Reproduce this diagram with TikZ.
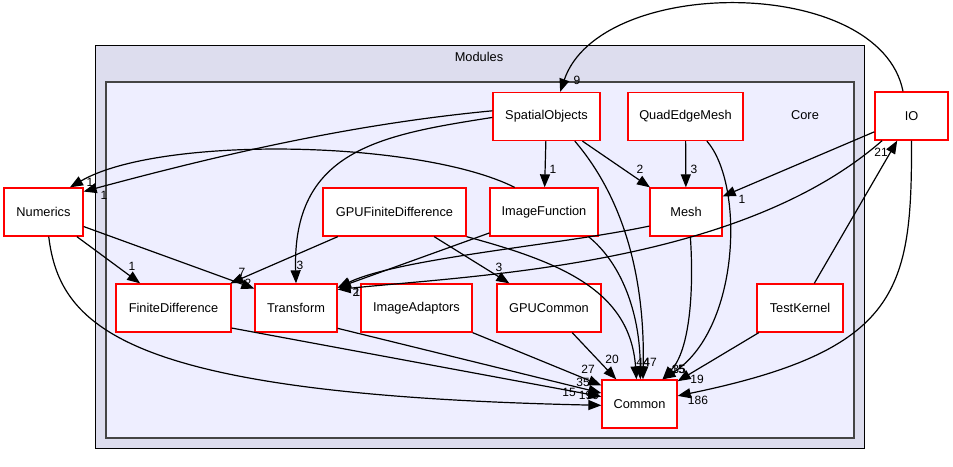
\documentclass[tikz,border=0pt]{standalone}
\usepackage{fontspec}
\setmainfont{Liberation Sans}
\usepackage{tikz}
\usetikzlibrary{
    positioning,
    arrows.meta,
}
\definecolor{modulesfill}{HTML}{DDDDEE}
\definecolor{corefill}{HTML}{EEEEFF}
\definecolor{coreline}{HTML}{444444}
\tikzset{
    % Directory node styles
    dirnode/.style={rectangle, draw=red, fill=white, line width=1.3pt,
                    minimum height=48pt, inner sep=0pt,
                    font=\fontsize{12.8}{15}\selectfont},
    % Cluster styles
    modulesbox/.style={draw=black, line width=1pt, fill=modulesfill},
    corebox/.style={draw=coreline, line width=1.8pt, fill=corefill},
    clusterlabel/.style={font=\fontsize{12.8}{15}\selectfont},
    % Arrow styles
    dep/.style={-{Triangle[length=13pt, width=10pt]}, line width=1.2pt},
    % Annotation styles
    deplabel/.style={font=\fontsize{12}{14}\selectfont, inner sep=0pt},
}

\begin{document}
\begin{tikzpicture}[x=1pt, y=-1pt]
    \useasboundingbox (0,0) rectangle (953,466);

    % Clusters
    \draw[modulesbox] (95,45) rectangle (864,448);
    \node[clusterlabel] (moduleslabel) at (479,57) {Modules};
    \draw[corebox] (106,82) rectangle (854,438);
    \node[clusterlabel] (corelabel) at (805,115) {Core};

    % Directories
    \node[dirnode, minimum width=107pt] (spatial) at (546.5,116.5) {SpatialObjects};
    \node[dirnode, minimum width=115pt] (quadedge) at (685.5,116.5) {QuadEdgeMesh};
    \node[dirnode, minimum width=73pt] (io) at (911.5,116) {IO};
    \node[dirnode, minimum width=79pt] (numerics) at (43.5,212) {Numerics};
    \node[dirnode, minimum width=143pt] (gpufd) at (394.5,212) {GPUFiniteDifference};
    \node[dirnode, minimum width=108pt] (imagefunction) at (544,212) {ImageFunction};
    \node[dirnode, minimum width=72pt] (mesh) at (686,212) {Mesh};
    \node[dirnode, minimum width=115pt] (finitediff) at (173.5,308) {FiniteDifference};
    \node[dirnode, minimum width=82pt] (transform) at (296,308) {Transform};
    \node[dirnode, minimum width=111pt] (imageadaptors) at (416.5,308) {ImageAdaptors};
    \node[dirnode, minimum width=104pt] (gpucommon) at (549,308) {GPUCommon};
    \node[dirnode, minimum width=86pt] (testkernel) at (800,308) {TestKernel};
    \node[dirnode, minimum width=75pt] (common) at (639.5,404) {Common};

    % SpatialObjects
    \draw[dep] (spatial.174) .. controls (353,124) and (223,154) .. (numerics.27);
    \draw[dep] (spatial.181) .. controls (380,135) and (292,150) .. (transform.north);
    \draw[dep] (spatial) -- (imagefunction);
    \draw[dep] (spatial) -- (mesh);
    \draw[dep] (spatial.-41) .. controls (625,200) and (645,280) .. (common.82);

    % QuadEdgeMesh
    \draw[dep] (quadedge) -- (mesh);
    \draw[dep] (quadedge.-49) .. controls (745,185) and (740,330) .. (common.47);

    % IO
    \draw[dep] (io.109) .. controls (880,-25) and (600,-25) .. (spatial.61);
    \draw[dep] (io) -- (mesh);
    \draw[dep] (io.-140) .. controls (740,265) and (480,275) .. (transform.24);
    \draw[dep] (io.south) .. controls (912,290) and (900,350) .. (common.12);

    % TestKernel
    \draw[dep] (testkernel) -- (io);
    \draw[dep] (testkernel) -- (common);

    % ImageFunction and Mesh
    \draw[dep] (imagefunction.140) .. controls (420,140) and (160,135) .. (numerics.43);
    \draw[dep] (imagefunction.201) -- (transform.26);
    \draw[dep] (imagefunction.-29) .. controls (620,262) and (640,310) .. (common.88);
    \draw[dep] (mesh.201) .. controls (560,245) and (400,258) .. (transform.26);
    \draw[dep] (mesh.-80) .. controls (694,290) and (690,350) .. (common.47);

    % GPUFiniteDifference
    \draw[dep] (gpufd) -- (finitediff);
    \draw[dep] (gpufd) -- (gpucommon);
    \draw[dep] (gpufd.south east) .. controls (560,262) and (630,290) .. (common.97);

    % Numerics
    \draw[dep] (numerics) -- (finitediff);
    \draw[dep] (numerics) -- (transform.155);
    \draw[dep] (numerics.-78) .. controls (60,330) and (130,395) .. (common.182);

    % Into Common
    \draw[dep] (finitediff.-19) -- (common.169);
    \draw[dep] (transform.-26) -- (common.164);
    \draw[dep] (imageadaptors.south east) -- (common.154);
    \draw[dep] (gpucommon) -- (common);

    % Edge labels
    \node[deplabel] (l9) at (577,80) {9};
    \node[deplabel] (lnum1) at (90,182) {1};
    \node[deplabel] (lnum2) at (104,195) {1};
    \node[deplabel] (limf) at (553,169) {1};
    \node[deplabel] (lmesh1) at (640,169) {2};
    \node[deplabel] (lmesh2) at (694,169) {3};
    \node[deplabel] (lmesh3) at (742,199) {1};
    \node[deplabel] (lio) at (881,152) {21};
    \node[deplabel] (ltk) at (697,379) {19};
    \node[deplabel] (lio2) at (698,400) {186};
    \node[deplabel] (ltr1) at (300,265) {3};
    \node[deplabel] (ltr2) at (248,283) {2};
    \node[deplabel] (ltr3) at (356,292) {2};
    \node[deplabel] (ltr4) at (357,292) {1};
    \node[deplabel] (lfd1) at (242,272) {7};
    \node[deplabel] (lfd2) at (132,266) {1};
    \node[deplabel] (lgpu) at (499,267) {3};
    \node[deplabel] (lc1) at (612,359) {20};
    \node[deplabel] (lc2) at (588,369) {27};
    \node[deplabel] (lc3) at (583,382) {35};
    \node[deplabel] (lc4) at (569,392) {15};
    \node[deplabel] (lc5) at (589,395) {199};
    \node[deplabel] (lc6) at (643,362) {44};
    \node[deplabel] (lc7) at (650,362) {47};
    \node[deplabel] (lc8) at (678,369) {15};
    \node[deplabel] (lc9) at (679,369) {35};
\end{tikzpicture}
\end{document}
